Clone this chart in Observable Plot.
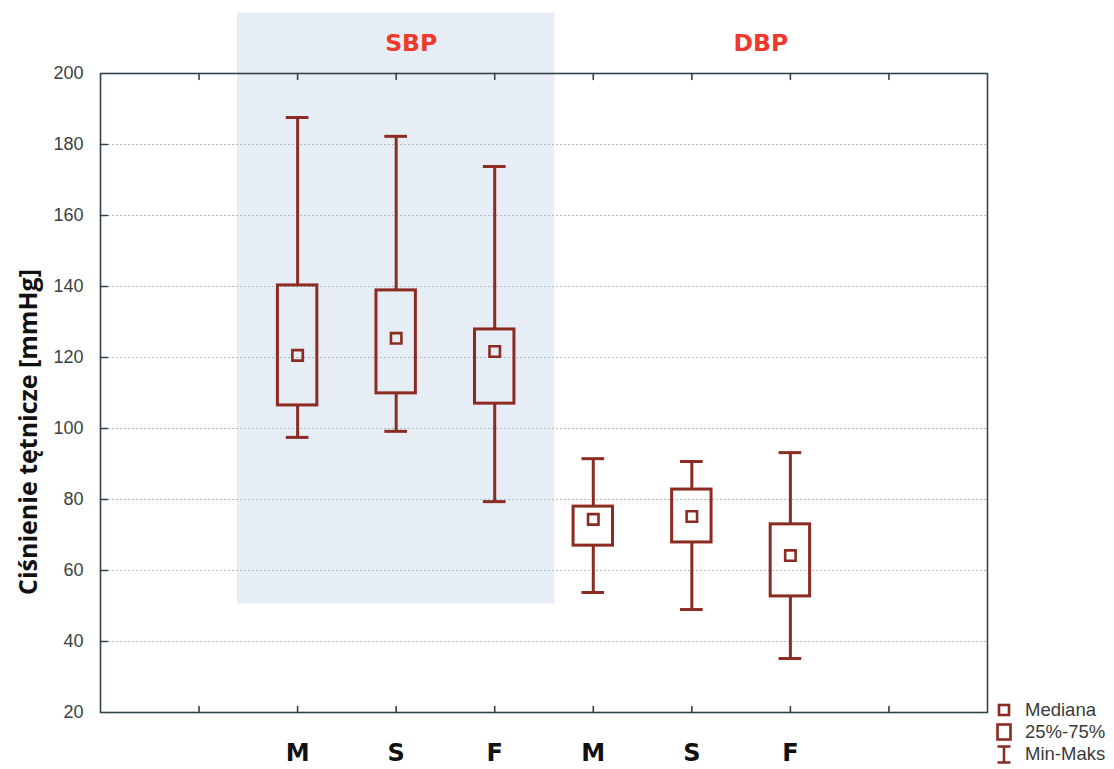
<!DOCTYPE html>
<html>
<head>
<meta charset="utf-8">
<script src="https://cdn.jsdelivr.net/npm/d3@7"></script>
<script src="https://cdn.jsdelivr.net/npm/@observablehq/plot@0.6"></script>
<style>
  body { margin: 0; background: #fff; }
  #wrap { position: relative; width: 1114px; height: 769px; }
  #legend { position: absolute; left: 996px; top: 699px; font: 18.5px "Liberation Sans", Arial, sans-serif; color: #3a3a3a; }
  .row { display: flex; align-items: center; height: 22px; white-space: nowrap; }
  .row svg { margin-right: 13px; display: block; flex: none; }
</style>
</head>
<body>
<div id="wrap"><div id="chart"></div><div id="legend"></div></div>
<script>
// Blood pressure by group (M, S, F) for systolic and diastolic readings
const groups = ["SBP", "SBP", "SBP", "DBP", "DBP", "DBP"];
const categories = ["M", "S", "F", "M", "S", "F"];
const minValues    = [97.5, 99.2, 79.4, 53.8, 49.0, 35.2];
const q1Values     = [106.5, 109.9, 107.0, 67.0, 67.9, 52.7];
const medianValues = [120.6, 125.4, 121.7, 74.4, 75.2, 64.2];
const q3Values     = [140.3, 138.9, 127.9, 78.0, 82.8, 73.0];
const maxValues    = [187.6, 182.3, 173.8, 91.5, 90.7, 93.2];
const yTicks = [20, 40, 60, 80, 100, 120, 140, 160, 180, 200];
const groupLabels = ["SBP", "DBP"];
const legendLabels = ["Mediana", "25%-75%", "Min-Maks"];
const yTitle = "Ciśnienie tętnicze [mmHg]";

const boxColor = "#8c2b21";
const axisColor = "#33434b";
const labelRed = "#ee3a2c";
const boldFont = "'DejaVu Sans', sans-serif";

// x axis: nine equal slots, boxes sit on slots 2..7
const slotCount = 9;
const firstSlot = 2;
const rows = categories.map((c, i) => ({
  x: firstSlot + i,
  group: groups[i],
  category: c,
  min: minValues[i], q1: q1Values[i], median: medianValues[i], q3: q3Values[i], max: maxValues[i]
}));
const slotTicks = d3.range(1, slotCount);

// shaded band behind the SBP group
const sbp = rows.filter(d => d.group === "SBP");
const shade = [{
  x1: d3.min(sbp, d => d.x) - 0.61,
  x2: d3.max(sbp, d => d.x) + 0.61,
  y1: 50.5,
  y2: 217
}];
const groupCenter = g => d3.mean(rows.filter(d => d.group === g), d => d.x);

const boxHalf = 0.2, capHalf = 0.115;
const tickShape = { draw(context, l) { context.moveTo(0, 0); context.lineTo(0, -l); } };

const chart = Plot.plot({
  width: 1114,
  height: 769,
  marginLeft: 100,
  marginRight: 127,
  marginTop: 73,
  marginBottom: 57,
  style: { fontFamily: "'Liberation Sans', Arial, sans-serif", background: "transparent" },
  x: { domain: [0, slotCount], axis: null },
  y: { domain: [20, 200], axis: null },
  marks: [
    Plot.rect(shade, { x1: "x1", x2: "x2", y1: "y1", y2: "y2", fill: "#e7edf4" }),
    Plot.ruleY(yTicks.filter(v => v > 20 && v < 200), { stroke: "#a8bccd", strokeDasharray: "2,2", strokeWidth: 1.2 }),
    Plot.frame({ stroke: axisColor, strokeWidth: 1.6 }),
    // inward ticks on the left, bottom and top edges
    Plot.vector(yTicks.filter(v => v > 20 && v < 200), { x: 0, y: d => d, rotate: 90, length: 7, anchor: "start", shape: tickShape, stroke: axisColor, strokeWidth: 1.6 }),
    Plot.vector(slotTicks, { x: d => d, y: 20, rotate: 0, length: 6, anchor: "start", shape: tickShape, stroke: axisColor, strokeWidth: 1.6 }),
    Plot.vector(slotTicks, { x: d => d, y: 200, rotate: 180, length: 6, anchor: "start", shape: tickShape, stroke: axisColor, strokeWidth: 1.6 }),
    Plot.text(yTicks, { x: 0, y: d => d, text: d => String(d), textAnchor: "end", dx: -17, fontSize: 18, fill: "#3a3f44" }),
    Plot.text([yTitle], { frameAnchor: "left", textAnchor: "middle", lineAnchor: "middle", rotate: -90, dx: -72, dy: 39, fontSize: 25, fontWeight: "bold", fill: "#111", fontFamily: "'Open Sans', sans-serif" }),
    // whiskers and caps
    Plot.ruleX(rows, { x: "x", y1: "min", y2: "q1", stroke: boxColor, strokeWidth: 3 }),
    Plot.ruleX(rows, { x: "x", y1: "q3", y2: "max", stroke: boxColor, strokeWidth: 3 }),
    Plot.ruleY(rows, { y: "min", x1: d => d.x - capHalf, x2: d => d.x + capHalf, stroke: boxColor, strokeWidth: 3 }),
    Plot.ruleY(rows, { y: "max", x1: d => d.x - capHalf, x2: d => d.x + capHalf, stroke: boxColor, strokeWidth: 3 }),
    // interquartile boxes and medians
    Plot.rect(rows, { x1: d => d.x - boxHalf, x2: d => d.x + boxHalf, y1: "q1", y2: "q3", fill: "none", stroke: boxColor, strokeWidth: 3 }),
    Plot.dot(rows, { x: "x", y: "median", symbol: "square", r: 5.9, fill: "none", stroke: boxColor, strokeWidth: 2.6 }),
    // category labels below, group labels above
    Plot.text(rows, { x: "x", text: "category", frameAnchor: "bottom", lineAnchor: "middle", dy: 41, fontSize: 24, fontWeight: "bold", fill: "#111", fontFamily: boldFont }),
    Plot.text([groupLabels[0]], { x: groupCenter(groupLabels[0]), frameAnchor: "top", lineAnchor: "middle", dy: -30, dx: 15, text: d => d, fontSize: 23.5, fontWeight: "bold", fill: labelRed, fontFamily: boldFont }),
    Plot.text([groupLabels[1]], { x: groupCenter(groupLabels[1]), frameAnchor: "top", lineAnchor: "middle", dy: -30, dx: 69, text: d => d, fontSize: 23.5, fontWeight: "bold", fill: labelRed, fontFamily: boldFont })
  ]
});
document.getElementById("chart").appendChild(chart);

// legend: median marker, quartile box, min-max whisker
const icons = [
  `<svg width="16" height="16"><rect x="3" y="3" width="10" height="10" fill="none" stroke="${boxColor}" stroke-width="2.6"/></svg>`,
  `<svg width="16" height="18"><rect x="1.5" y="1.5" width="13" height="15" fill="none" stroke="${boxColor}" stroke-width="2.6"/></svg>`,
  `<svg width="16" height="19"><path d="M1.5,1.5H14.5M8,1.5V17.5M1.5,17.5H14.5" fill="none" stroke="${boxColor}" stroke-width="2.6"/></svg>`
];
document.getElementById("legend").innerHTML = legendLabels
  .map((t, i) => `<div class="row">${icons[i]}<span>${t}</span></div>`).join("");
</script>
</body>
</html>
